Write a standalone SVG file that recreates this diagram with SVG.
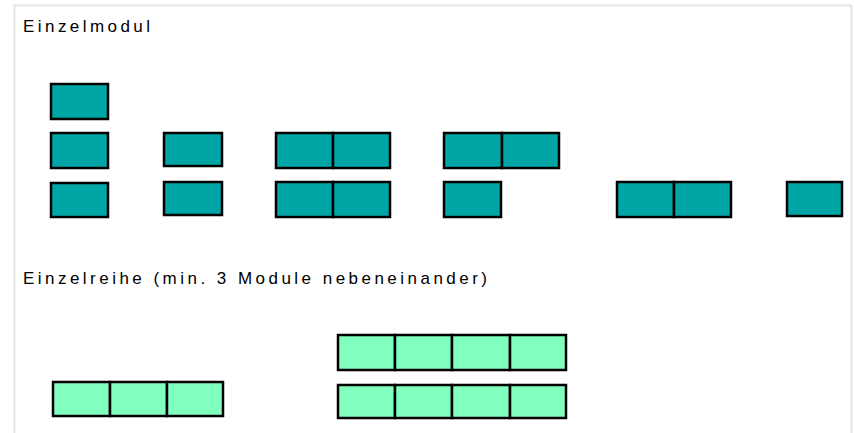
<svg xmlns="http://www.w3.org/2000/svg" width="854" height="433" viewBox="0 0 854 433">
<style>
.t{fill:#00a6a6;stroke:#000;stroke-width:2.5}
.g{fill:#80ffbf;stroke:#000;stroke-width:2.5}
.lbl{font-family:"Liberation Sans",Arial,sans-serif;font-size:17px;fill:#000}
</style>
<rect x="0" y="0" width="854" height="433" fill="#fff"/>
<path d="M14.5,433 V5.5 H851.5 V433" fill="none" stroke="#e4e4e4" stroke-width="2"/>
<g id="label-einzelmodul"><text class="lbl" x="23" y="32" textLength="127" lengthAdjust="spacing">Einzelmodul</text></g>
<g id="label-einzelreihe"><text class="lbl" x="23" y="284" textLength="464" lengthAdjust="spacing">Einzelreihe (min. 3 Module nebeneinander)</text></g>
<g id="m1"><rect class="t" x="51" y="84" width="57" height="35"/></g>
<g id="m2"><rect class="t" x="51" y="133" width="57" height="35"/></g>
<g id="m3"><rect class="t" x="51" y="183" width="57" height="34"/></g>
<g id="m4"><rect class="t" x="164" y="133" width="58" height="33"/></g>
<g id="m5"><rect class="t" x="164" y="182" width="58" height="33"/></g>
<g id="m6"><rect class="t" x="276" y="133" width="57" height="35"/><rect class="t" x="333" y="133" width="57" height="35"/></g>
<g id="m7"><rect class="t" x="276" y="182" width="57" height="35"/><rect class="t" x="333" y="182" width="57" height="35"/></g>
<g id="m8"><rect class="t" x="444" y="133" width="58" height="35"/><rect class="t" x="502" y="133" width="57" height="35"/></g>
<g id="m9"><rect class="t" x="444" y="182" width="57" height="35"/></g>
<g id="m10"><rect class="t" x="617" y="182" width="57" height="35"/><rect class="t" x="674" y="182" width="57" height="35"/></g>
<g id="m11"><rect class="t" x="787" y="182" width="55" height="34"/></g>
<g id="r1"><rect class="g" x="53" y="382" width="57" height="34"/><rect class="g" x="110" y="382" width="57" height="34"/><rect class="g" x="167" y="382" width="56" height="34"/></g>
<g id="r2"><rect class="g" x="338" y="335" width="57" height="35"/><rect class="g" x="395" y="335" width="57" height="35"/><rect class="g" x="452" y="335" width="58" height="35"/><rect class="g" x="510" y="335" width="56" height="35"/></g>
<g id="r3"><rect class="g" x="338" y="385" width="57" height="33"/><rect class="g" x="395" y="385" width="57" height="33"/><rect class="g" x="452" y="385" width="58" height="33"/><rect class="g" x="510" y="385" width="56" height="33"/></g>
<g id="connectors"></g>
</svg>
